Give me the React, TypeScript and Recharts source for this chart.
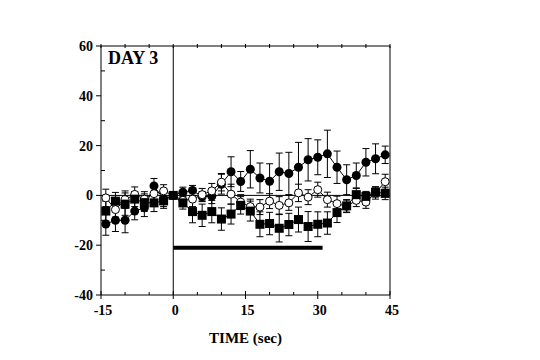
import { CartesianGrid, ErrorBar, Line, LineChart, ReferenceLine, XAxis, YAxis } from 'recharts';

/** DAY 3 time course — three groups, mean ± error, stimulus bar 0–31 s. */

const times = [-14, -12, -10, -8, -6, -4, -2, 0, 2, 4, 6, 8, 10, 12, 14, 16, 18, 20, 22, 24, 26, 28, 30, 32, 34, 36, 38, 40, 42, 44];

const closedMean = [-11.5, -10, -10, -6.3, -5, 3.8, -1.5, 0, 1.3, 2, -0.5, -0.3, 4.5, 9.5, 5.6, 10.5, 7, 5.7, 9.5, 8.8, 11.3, 14.3, 15.3, 16.7, 11.3, 6.3, 8, 13.3, 14.7, 16.3];
const closedErr = [4.5, 4.5, 5, 3.5, 3.5, 3, 3, 0, 2, 2, 2, 3, 4, 6, 4, 7.5, 6, 7, 7.5, 8.5, 10, 8.5, 7, 9.5, 6.5, 6, 5, 5.5, 6, 3.5];

const openMean = [-1, -5.7, -1.7, 0.4, -1.5, 0.7, 1.8, 0, -2, -1.5, 0.3, 1.8, 5.3, 0.5, -2.7, -4.5, -4.7, -2.3, -4, -3, 1, -0.7, 2.3, -1.7, -3.3, -4.4, -2, -2.7, 1, 5.5];
const openErr = [3.5, 3, 3.5, 3, 3, 3, 2.5, 0, 2.5, 3, 2.5, 3, 3.5, 4, 3, 3, 3, 3, 3.5, 3, 3.5, 3, 3, 3, 3, 2.5, 2.5, 2.5, 2.5, 3];

const squareMean = [-6.3, -2.3, -3.5, -1.5, -2.9, -3, -2.2, 0, -3, -6.5, -8, -6.5, -9.5, -7.5, -4, -6.3, -11.6, -11.3, -13.2, -11.7, -9.7, -12.5, -11.6, -11.1, -6.9, -4.2, 0.3, -0.4, 1.3, 0.8];
const squareErr = [4, 3.5, 4.5, 3, 3.5, 3.5, 3, 0, 2.5, 4.5, 4.5, 4.5, 4.5, 4, 3.5, 4, 5, 4.5, 5.5, 4.5, 5, 6, 5, 4.5, 4, 2.5, 2.5, 2, 2, 2.5];

const xTicks = [-15, -10, -5, 0, 5, 10, 15, 20, 25, 30, 35, 40, 45];
const yTicks = [-40, -30, -20, -10, 0, 10, 20, 30, 40, 50, 60];
const stimulus = { start: 0, end: 31, level: -21 };

const data = times.map((t, i) => ({
  t,
  closed: closedMean[i],
  closedErr: closedErr[i],
  open: openMean[i],
  openErr: openErr[i],
  square: squareMean[i],
  squareErr: squareErr[i],
}));

// plot box (page pixels)
const PL = 101;
const PB = 295;
const font = '"Liberation Serif", "Times New Roman", serif';

const LeftTick = (p: any) => {
  const v = p.payload.value;
  const major = v % 20 === 0;
  return (
    <g>
      {major ? (
        <>
          <line x1={PL - 5} x2={PL} y1={p.y} y2={p.y} stroke="#000" />
          <text x={PL - 8} y={p.y + 5} textAnchor="end" fontFamily={font} fontWeight="bold" fontSize={14}>
            {v}
          </text>
        </>
      ) : (
        <line x1={PL} x2={PL + 4} y1={p.y} y2={p.y} stroke="#000" />
      )}
    </g>
  );
};

const BottomTick = (p: any) => {
  const v = p.payload.value;
  const major = v % 15 === 0;
  return (
    <g>
      {major ? (
        <>
          <line x1={p.x} x2={p.x} y1={PB - 4} y2={PB + 4} stroke="#000" />
          <text x={p.x + 2} y={PB + 20} textAnchor="middle" fontFamily={font} fontWeight="bold" fontSize={14}>
            {v}
          </text>
        </>
      ) : (
        <line x1={p.x} x2={p.x} y1={PB - 3} y2={PB} stroke="#000" />
      )}
    </g>
  );
};

const TopTick = (p: any) => <line x1={p.x} x2={p.x} y1={p.y + 6} y2={p.y + 10} stroke="#000" />;
const RightTick = (p: any) => <line x1={p.x - 10} x2={p.x - 6} y1={p.y} y2={p.y} stroke="#000" />;

const filledDot = (p: any) => <circle key={`c${p.index}`} cx={p.cx} cy={p.cy} r={4.5} fill="#000" />;
const openDot = (p: any) => <circle key={`o${p.index}`} cx={p.cx} cy={p.cy} r={4} fill="#fff" stroke="#000" strokeWidth={1} />;
const squareDot = (p: any) => <rect key={`s${p.index}`} x={p.cx - 4.5} y={p.cy - 4.5} width={9} height={9} fill="#000" />;

export default function App() {
  return (
    <div style={{ position: 'absolute', left: 0, top: 0, width: 540, height: 360, background: '#fff' }}>
      <LineChart width={540} height={360} data={data} margin={{ top: 36, right: 140, bottom: 0, left: 0 }}>
        <CartesianGrid stroke="none" />
        <XAxis dataKey="t" type="number" domain={[-15, 45]} ticks={xTicks} height={65} tickLine={false} stroke="#000" tick={<BottomTick />} interval={0} />
        <XAxis xAxisId="top" orientation="top" dataKey="t" type="number" domain={[-15, 45]} ticks={xTicks} height={10} tickLine={false} stroke="#000" tick={<TopTick />} interval={0} />
        <YAxis type="number" domain={[-40, 60]} ticks={yTicks} width={101} tickLine={false} stroke="#000" tick={<LeftTick />} interval={0} />
        <YAxis yAxisId="right" orientation="right" type="number" domain={[-40, 60]} ticks={yTicks} width={10} tickLine={false} stroke="#000" tick={<RightTick />} interval={0} />
        <ReferenceLine y={0} stroke="#000" strokeWidth={1} />
        <ReferenceLine x={0} stroke="#000" strokeWidth={1} />
        <ReferenceLine
          segment={[
            { x: stimulus.start, y: stimulus.level },
            { x: stimulus.end, y: stimulus.level },
          ]}
          stroke="#000"
          strokeWidth={4}
        />
        <Line dataKey="closed" stroke="#000" strokeWidth={1} dot={filledDot} isAnimationActive={false}>
          <ErrorBar dataKey="closedErr" width={3.5} stroke="#000" strokeWidth={1} direction="y" />
        </Line>
        <Line dataKey="open" stroke="#000" strokeWidth={1} dot={openDot} isAnimationActive={false}>
          <ErrorBar dataKey="openErr" width={3.5} stroke="#000" strokeWidth={1} direction="y" />
        </Line>
        <Line dataKey="square" stroke="#000" strokeWidth={1} dot={squareDot} isAnimationActive={false}>
          <ErrorBar dataKey="squareErr" width={3.5} stroke="#000" strokeWidth={1} direction="y" />
        </Line>
      </LineChart>
      <div style={{ position: 'absolute', left: 108, top: 47, fontFamily: font, fontWeight: 'bold', fontSize: 18, lineHeight: '22px' }}>DAY 3</div>
      <div style={{ position: 'absolute', left: 101, width: 289, top: 329, textAlign: 'center', fontFamily: font, fontWeight: 'bold', fontSize: 15, lineHeight: '18px' }}>
        TIME (sec)
      </div>
    </div>
  );
}
